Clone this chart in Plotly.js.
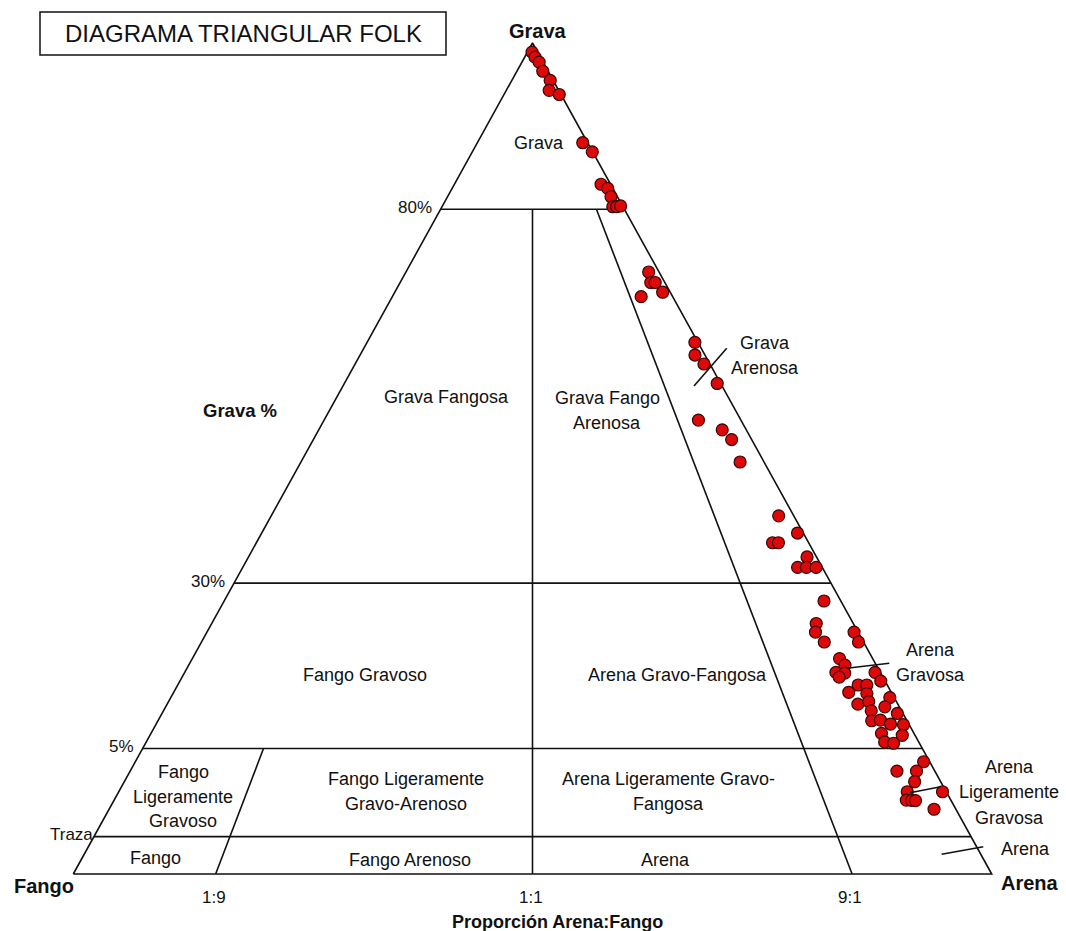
<!DOCTYPE html>
<html>
<head>
<meta charset="utf-8">
<script src="https://cdn.plot.ly/plotly-3.0.1.min.js"></script>
<style>
  html, body { margin: 0; padding: 0; background: #ffffff; }
  #chart { width: 1066px; height: 931px; }
</style>
</head>
<body>
<div id="chart"></div>
<script>
// Sample composition: gravel % of the whole sample, and sand % within the sand+mud fraction
const gravaPct = [
  98.9, 98.3, 97.7, 96.6, 95.5, 94.3, 93.8, 88.0, 86.9, 83.0,
  82.5, 81.5, 80.3, 80.3, 80.4, 71.6, 70.2, 70.2, 68.9, 68.3,
  62.2, 60.5, 59.3, 56.7, 51.8, 50.5, 49.2, 46.2, 39.0, 36.7,
  35.4, 35.4, 33.5, 32.1, 32.1, 32.1, 27.3, 23.9, 22.6, 21.1,
  22.6, 21.1, 18.6, 17.6, 16.5, 16.4, 15.8, 16.5, 15.2, 13.5,
  14.6, 14.6, 13.3, 11.7, 12.1, 10.7, 12.7, 11.3, 10.3, 9.2,
  9.3, 8.7, 8.6, 7.3, 7.0, 6.0, 5.8, 4.25, 3.72, 3.72,
  3.12, 2.55, 2.55, 2.08, 2.06, 2.05, 1.56
];
const arenaEnFinosPct = [
  44.7, 68.6, 86.2, 87.9, 95.3, 86.6, 98.0, 97.1, 99.8, 96.0,
  97.9, 97.5, 96.3, 97.7, 99.3, 97.3, 96.5, 97.6, 98.2, 92.6,
  99.4, 98.1, 98.9, 99.4, 93.3, 96.3, 97.0, 96.6, 98.1, 99.3,
  95.7, 96.4, 98.9, 97.2, 98.2, 99.3, 98.2, 96.2, 95.7, 96.1,
  99.6, 99.5, 96.8, 97.0, 95.8, 96.6, 95.9, 99.5, 99.6, 96.1,
  97.3, 98.1, 97.7, 96.4, 97.5, 97.3, 99.6, 98.7, 99.5, 96.9,
  97.7, 98.4, 99.5, 97.2, 98.9, 97.1, 97.8, 99.5, 96.9, 98.5,
  97.9, 96.9, 99.7, 96.5, 96.9, 97.2, 98.3
];

// Folk class limits
const gravelLimits = [80, 30, 5, 0.01];              // % gravel
const gravelLimitLabels = ['80%', '30%', '5%', 'Traza'];
const ratioLimits = [10, 50, 90];                     // % sand in sand+mud
const ratioLimitTop = [5, 80, 80];                    // gravel % where each ratio line stops
const ratioLabels = ['1:9', '1:1', '9:1'];

// Drawing scale of the diagram (stretched towards the base, as in Folk's scheme)
const GRAVEL_KNOTS = [0, 0.01, 5, 30, 80, 100];
const GRAVEL_HEIGHT = [0, 0.045, 0.151, 0.35, 0.8, 1];
const RATIO_KNOTS = [0, 10, 50, 90, 100];
const RATIO_WIDTH = [0, 0.155, 0.5, 0.848, 1];

// Triangle placement on the page, in px
const BASE_LEFT = 73.3, BASE_WIDTH = 918.4, BASE_Y = 874, HEIGHT = 831;

function interp(v, xs, ys) {
  if (v <= xs[0]) return ys[0];
  for (let i = 1; i < xs.length; i++) {
    if (v <= xs[i]) {
      const t = (v - xs[i - 1]) / (xs[i] - xs[i - 1]);
      return ys[i - 1] + t * (ys[i] - ys[i - 1]);
    }
  }
  return ys[ys.length - 1];
}

// gravel % and sand share of the fines -> page position
function toXY(g, s) {
  const v = interp(g, GRAVEL_KNOTS, GRAVEL_HEIGHT);
  const u = interp(s, RATIO_KNOTS, RATIO_WIDTH);
  const xn = 0.5 + (u - 0.5) * (1 - v);
  return [BASE_LEFT + BASE_WIDTH * xn, BASE_Y - HEIGHT * v];
}

const LINE = { color: '#111111', width: 1.6 };
const traces = [];

function seg(a, b) {
  traces.push({
    x: [a[0], b[0]], y: [a[1], b[1]], mode: 'lines', type: 'scatter',
    line: LINE, hoverinfo: 'skip', cliponaxis: false
  });
}

// outline
const pF = toXY(0, 0), pA = toXY(0, 100), pG = toXY(100, 50);
traces.push({
  x: [pF[0], pA[0], pG[0], pF[0]], y: [pF[1], pA[1], pG[1], pF[1]],
  mode: 'lines', type: 'scatter', line: LINE, hoverinfo: 'skip'
});
// gravel class limits
gravelLimits.forEach(g => seg(toXY(g, 0), toXY(g, 100)));
// sand:mud ratio limits
ratioLimits.forEach((s, i) => seg(toXY(0, s), toXY(ratioLimitTop[i], s)));

// samples
const pts = gravaPct.map((g, i) => toXY(g, arenaEnFinosPct[i]));
traces.push({
  x: pts.map(p => p[0]), y: pts.map(p => p[1]),
  mode: 'markers', type: 'scatter',
  marker: { size: 12, color: '#dd0808', line: { color: '#3d0404', width: 1.2 } },
  hoverinfo: 'skip', cliponaxis: false
});

const FONT = 'Liberation Sans, Arial, Helvetica, sans-serif';
const annotations = [];
function txt(x, y, text, size, opts) {
  annotations.push(Object.assign({
    x: x, y: y, xref: 'x', yref: 'y', text: text, showarrow: false,
    font: { family: FONT, size: size || 18, color: '#111111' },
    xanchor: 'center', yanchor: 'middle', align: 'center'
  }, opts || {}));
}

// title
txt(243, 33.5, 'DIAGRAMA TRIANGULAR FOLK', 24);

// corner names
txt(538, 31, '<b>Grava</b>', 20);
txt(44, 886, '<b>Fango</b>', 20);
txt(1030, 883, '<b>Arena</b>', 20);

// gravel limit labels, set against the left edge
gravelLimits.forEach((g, i) => {
  const p = toXY(g, 0);
  const isTrace = gravelLimitLabels[i] === 'Traza';
  txt(p[0] + (isTrace ? 1 : -7), p[1] - 2, gravelLimitLabels[i], 17, { xanchor: 'right' });
});

// ratio labels under the base
ratioLimits.forEach((s, i) => {
  const p = toXY(0, s);
  txt(p[0] - 2, p[1] + 23, ratioLabels[i], 17);
});

txt(240, 410, '<b>Grava %</b>', 18.5);
txt(557, 922, '<b>Proporción Arena:Fango</b>', 18);

// class names
txt(539, 143, 'Grava');
txt(446, 397, 'Grava Fangosa');
txt(607, 398, 'Grava Fango');
txt(607, 423, 'Arenosa');
txt(765, 343, 'Grava');
txt(765, 368, 'Arenosa');
txt(365, 675, 'Fango Gravoso');
txt(677, 675, 'Arena Gravo-Fangosa');
txt(930, 650, 'Arena');
txt(930, 675, 'Gravosa');
txt(183, 772, 'Fango');
txt(183, 797, 'Ligeramente');
txt(183, 821, 'Gravoso');
txt(406, 779, 'Fango Ligeramente');
txt(406, 804, 'Gravo-Arenoso');
txt(668, 779, 'Arena Ligeramente Gravo-');
txt(668, 804, 'Fangosa');
txt(1009, 767, 'Arena');
txt(1009, 792, 'Ligeramente');
txt(1009, 818, 'Gravosa');
txt(155, 858, 'Fango');
txt(410, 860, 'Fango Arenoso');
txt(665, 860, 'Arena');
txt(1025, 849, 'Arena');

// leader ticks for the narrow classes along the sand edge, plus the title frame
const shapes = [
  { type: 'rect', xref: 'x', yref: 'y', x0: 40, x1: 446, y0: 12, y1: 55, line: { color: '#111111', width: 1.5 } },
  { type: 'line', xref: 'x', yref: 'y', x0: 694, y0: 386, x1: 726.7, y1: 348.3, line: LINE },
  { type: 'line', xref: 'x', yref: 'y', x0: 846.7, y0: 668.3, x1: 889.3, y1: 663.3, line: LINE },
  { type: 'line', xref: 'x', yref: 'y', x0: 910, y0: 792.7, x1: 940.7, y1: 786.7, line: LINE },
  { type: 'line', xref: 'x', yref: 'y', x0: 941.7, y0: 854.3, x1: 983.3, y1: 846.7, line: LINE }
];

const layout = {
  width: 1066, height: 931,
  margin: { l: 0, r: 0, t: 0, b: 0, pad: 0 },
  paper_bgcolor: '#ffffff', plot_bgcolor: '#ffffff',
  showlegend: false, hovermode: false,
  xaxis: { range: [0, 1066], visible: false, fixedrange: true },
  yaxis: { range: [931, 0], visible: false, fixedrange: true },
  annotations: annotations,
  shapes: shapes
};

Plotly.newPlot('chart', traces, layout, { displayModeBar: false, staticPlot: true });
</script>
</body>
</html>
